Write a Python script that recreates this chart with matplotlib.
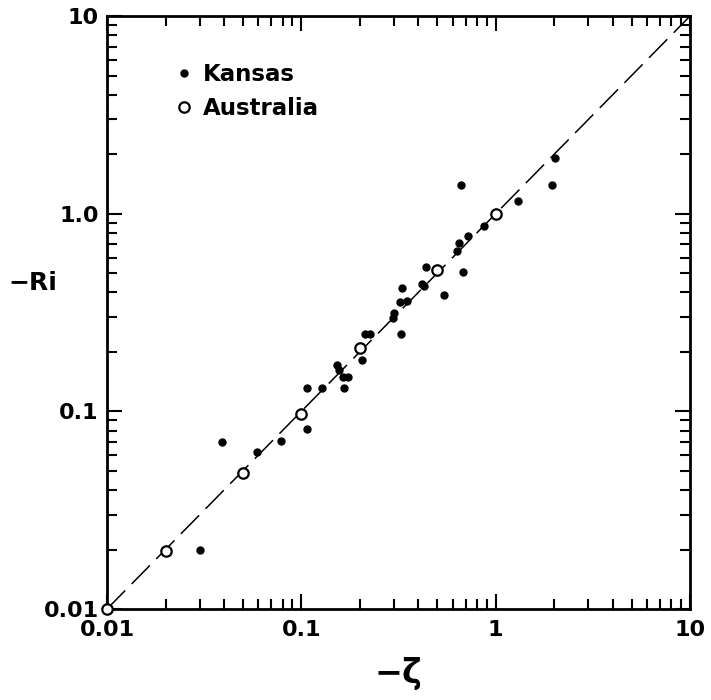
import matplotlib
matplotlib.use('Agg')
import matplotlib.pyplot as plt
from matplotlib.lines import Line2D
from matplotlib.ticker import FixedLocator, FixedFormatter, LogLocator, NullFormatter

# Kansas (filled dots): -zeta, -Ri
kansas_zeta = [0.039, 0.030, 0.059, 0.079, 0.107, 0.107, 0.127, 0.166, 0.153, 0.157,
               0.164, 0.174, 0.206, 0.213, 0.226, 0.326, 0.297, 0.30, 0.322, 0.35,
               0.33, 0.42, 0.43, 0.44, 0.54, 0.63, 0.65, 0.72, 0.68, 0.66,
               0.87, 1.30, 1.96, 2.03]
kansas_ri = [0.070, 0.020, 0.062, 0.071, 0.131, 0.081, 0.132, 0.132, 0.171, 0.161,
             0.149, 0.149, 0.181, 0.245, 0.245, 0.245, 0.298, 0.316, 0.356, 0.36,
             0.42, 0.44, 0.43, 0.54, 0.39, 0.65, 0.71, 0.77, 0.51, 1.40,
             0.87, 1.16, 1.40, 1.92]

# Australia (open circles)
aus_zeta = [0.01, 0.02, 0.05, 0.1, 0.2, 0.5, 1.0]
aus_ri = [0.01, 0.0196, 0.0486, 0.097, 0.21, 0.52, 1.0]

line_x = [0.01, 10]
x_ticks = [0.01, 0.1, 1, 10]
x_labels = ['0.01', '0.1', '1', '10']
y_ticks = [0.01, 0.1, 1, 10]
y_labels = ['0.01', '0.1', '1.0', '10']

fig = plt.figure(figsize=(7.11, 7.00), dpi=100)
ax = fig.add_axes([0.1505, 0.13, 0.82, 0.847])

ax.plot(line_x, line_x, color='black', lw=1.1, linestyle=(0, (17, 6)), zorder=1)
ax.plot(kansas_zeta, kansas_ri, 'o', color='black', ms=5, zorder=3)
ax.plot(aus_zeta, aus_ri, 'o', mfc='white', mec='black', mew=1.6, ms=7.5,
        zorder=4, clip_on=False)

ax.set_xscale('log')
ax.set_yscale('log')
ax.set_xlim(0.01, 10)
ax.set_ylim(0.01, 10)

ax.xaxis.set_major_locator(FixedLocator(x_ticks))
ax.xaxis.set_major_formatter(FixedFormatter(x_labels))
ax.yaxis.set_major_locator(FixedLocator(y_ticks))
ax.yaxis.set_major_formatter(FixedFormatter(y_labels))
for axis in (ax.xaxis, ax.yaxis):
    axis.set_minor_locator(LogLocator(base=10, subs=range(2, 10)))
    axis.set_minor_formatter(NullFormatter())

ax.tick_params(which='both', direction='in', top=True, right=True, width=1.5)
ax.tick_params(which='major', length=11, pad=8, labelsize=16)
ax.tick_params(which='minor', length=7)
for lab in ax.get_xticklabels() + ax.get_yticklabels():
    lab.set_fontweight('bold')
ax.tick_params(axis='y', pad=6)
for sp in ax.spines.values():
    sp.set_linewidth(2)

ax.set_xlabel('−ζ', fontsize=24, fontweight='bold', labelpad=12)
ax.set_ylabel('−Ri', fontsize=18, fontweight='bold', rotation=0)
ax.yaxis.set_label_coords(-0.127, 0.53)

handles = [Line2D([], [], marker='o', ls='none', color='black', ms=5),
           Line2D([], [], marker='o', ls='none', mfc='white', mec='black', mew=1.6, ms=7.5)]
leg = ax.legend(handles, ['Kansas', 'Australia'], loc='upper left',
                bbox_to_anchor=(0.085, 0.955), frameon=False, handlelength=0.6,
                handletextpad=0.5, labelspacing=0.45,
                prop={'size': 16.5, 'weight': 'bold'})

fig.savefig('out.png', dpi=100)
